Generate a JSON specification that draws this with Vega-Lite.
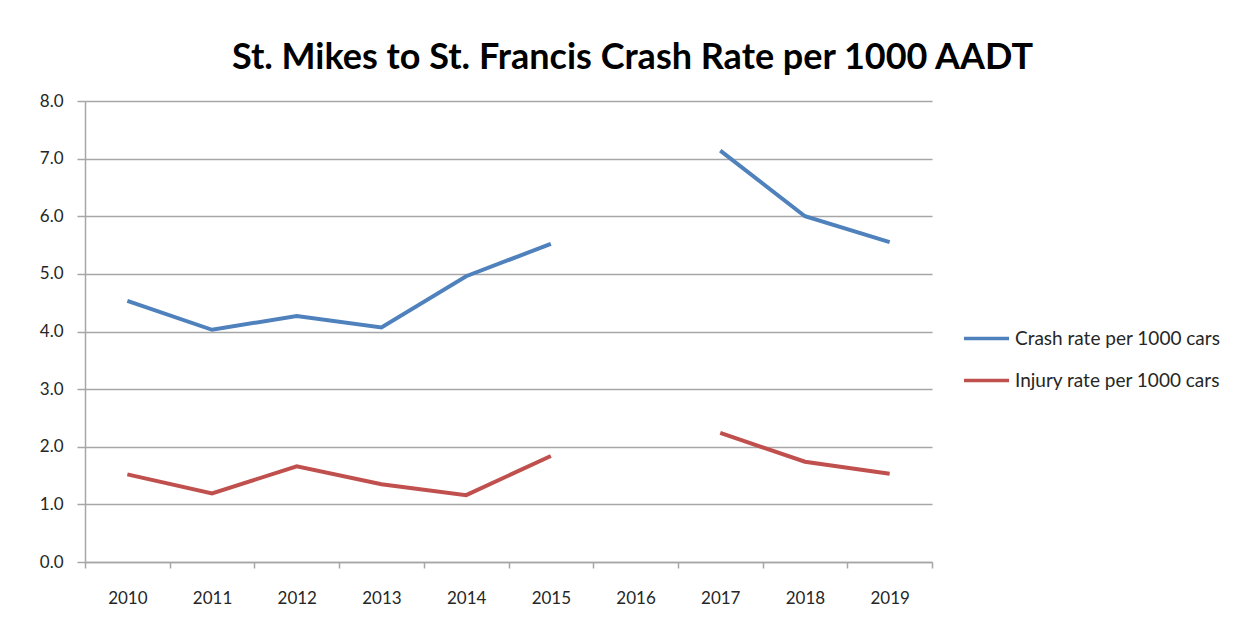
{
  "$schema": "https://vega.github.io/schema/vega-lite/v6.json",
  "autosize": "none",
  "width": 847,
  "height": 461,
  "padding": {"left": 85, "top": 101, "right": 319, "bottom": 65},
  "background": "white",
  "title": {
    "text": "St. Mikes to St. Francis Crash Rate per 1000 AADT",
    "font": "Lato",
    "fontSize": 36,
    "fontWeight": "bold",
    "color": "#000000",
    "anchor": "middle",
    "dx": 124,
    "offset": 15
  },
  "data": {
    "values": [
      {"year": "2010", "series": "Crash rate per 1000 cars", "value": 4.53},
      {"year": "2011", "series": "Crash rate per 1000 cars", "value": 4.03},
      {"year": "2012", "series": "Crash rate per 1000 cars", "value": 4.27},
      {"year": "2013", "series": "Crash rate per 1000 cars", "value": 4.07},
      {"year": "2014", "series": "Crash rate per 1000 cars", "value": 4.96},
      {"year": "2015", "series": "Crash rate per 1000 cars", "value": 5.52},
      {"year": "2016", "series": "Crash rate per 1000 cars", "value": null},
      {"year": "2017", "series": "Crash rate per 1000 cars", "value": 7.14},
      {"year": "2018", "series": "Crash rate per 1000 cars", "value": 6.0},
      {"year": "2019", "series": "Crash rate per 1000 cars", "value": 5.55},
      {"year": "2010", "series": "Injury rate per 1000 cars", "value": 1.52},
      {"year": "2011", "series": "Injury rate per 1000 cars", "value": 1.19},
      {"year": "2012", "series": "Injury rate per 1000 cars", "value": 1.66},
      {"year": "2013", "series": "Injury rate per 1000 cars", "value": 1.35},
      {"year": "2014", "series": "Injury rate per 1000 cars", "value": 1.16},
      {"year": "2015", "series": "Injury rate per 1000 cars", "value": 1.84},
      {"year": "2016", "series": "Injury rate per 1000 cars", "value": null},
      {"year": "2017", "series": "Injury rate per 1000 cars", "value": 2.24},
      {"year": "2018", "series": "Injury rate per 1000 cars", "value": 1.74},
      {"year": "2019", "series": "Injury rate per 1000 cars", "value": 1.53}
    ]
  },
  "mark": {"type": "line", "strokeWidth": 4, "invalid": "break-paths-show-domains"},
  "encoding": {
    "x": {
      "field": "year",
      "type": "ordinal",
      "bandPosition": 0.5,
      "scale": {"type": "band", "paddingInner": 0, "paddingOuter": 0},
      "axis": {
        "title": null,
        "labelAngle": 0,
        "tickBand": "extent",
        "grid": false,
        "domainColor": "#a6a6a6",
        "domainWidth": 1.5,
        "tickColor": "#a6a6a6",
        "tickWidth": 1.5,
        "tickSize": 6,
        "labelPadding": 22,
        "labelFont": "Lato",
        "labelFontSize": 17,
        "labelColor": "#262626"
      }
    },
    "y": {
      "field": "value",
      "type": "quantitative",
      "scale": {"domain": [0, 8], "nice": false, "zero": true},
      "axis": {
        "title": null,
        "values": [0, 1, 2, 3, 4, 5, 6, 7, 8],
        "format": ".1f",
        "grid": true,
        "gridColor": "#a6a6a6",
        "gridWidth": 1.5,
        "domainColor": "#a6a6a6",
        "domainWidth": 1.5,
        "tickColor": "#a6a6a6",
        "tickWidth": 1.5,
        "tickSize": 8,
        "labelPadding": 14,
        "labelFont": "Lato",
        "labelFontSize": 17,
        "labelColor": "#262626"
      }
    },
    "color": {
      "field": "series",
      "type": "nominal",
      "scale": {
        "domain": ["Crash rate per 1000 cars", "Injury rate per 1000 cars"],
        "range": ["#4F81BD", "#C0504D"]
      },
      "legend": {
        "title": null,
        "orient": "none",
        "legendX": 877,
        "legendY": 213,
        "symbolType": "stroke",
        "symbolSize": 2025,
        "symbolStrokeWidth": 3.5,
        "labelFont": "Lato",
        "labelFontSize": 19,
        "labelLimit": 320,
        "labelColor": "#262626",
        "labelOffset": 4,
        "rowPadding": 7,
        "padding": 0
      }
    }
  },
  "config": {
    "view": {"stroke": null}
  }
}
